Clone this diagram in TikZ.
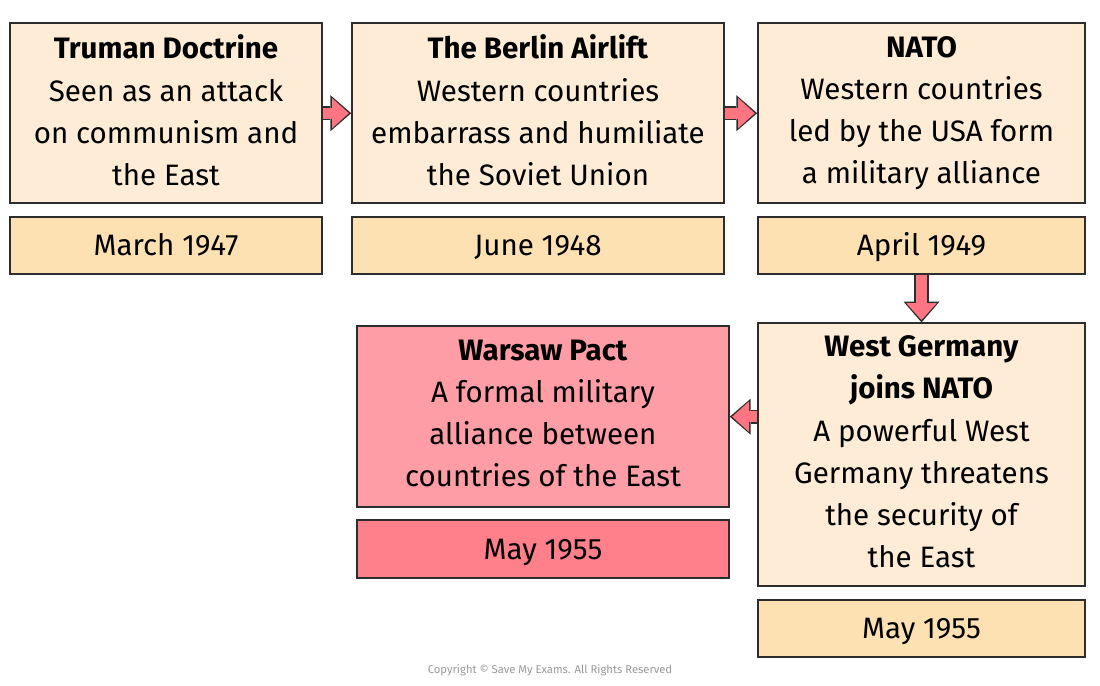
\documentclass[tikz,border=0pt]{standalone}
\usepackage{fontspec}
\setmainfont{Fira Sans}
\usetikzlibrary{arrows.meta}
\definecolor{cream}{RGB}{254,236,214}
\definecolor{datecream}{RGB}{253,225,178}
\definecolor{pactpink}{RGB}{255,157,166}
\definecolor{pactdatepink}{RGB}{255,128,139}
\definecolor{arrowpink}{RGB}{255,118,130}
\definecolor{edge}{RGB}{45,45,45}
\begin{document}
\begin{tikzpicture}[
    event/.style={draw=edge, line width=0.04cm, fill=cream, inner sep=0cm, align=center, font=\fontsize{21}{29.9}\selectfont,
        execute at begin node=\vphantom{T}, execute at end node=\vphantom{y}},
    datebox/.style={draw=edge, line width=0.04cm, fill=datecream, inner sep=0cm, minimum height=1.425cm,
        font=\fontsize{21}{29.9}\selectfont, text height=14.5pt, text depth=0pt},
    linkback/.style={draw=edge, line width=0.36cm, -{Triangle[length=0.52cm,width=0.9cm,line width=0pt]}},
    linkfront/.style={draw=arrowpink, line width=0.27cm, shorten >=0.06cm, -{Triangle[length=0.42cm,width=0.76cm,line width=0pt]}}
]
    \useasboundingbox (0cm,0cm) rectangle (27.5cm,-17.15cm);
    % top row
    \node[event, minimum width=7.8cm, minimum height=4.5cm] at (4.15cm,-2.83cm) (TD) {\textbf{Truman Doctrine}\\Seen as an attack\\on communism and\\the East};
    \node[event, minimum width=9.3cm, minimum height=4.5cm] at (13.45cm,-2.83cm) (BA) {\textbf{The Berlin Airlift}\\Western countries\\embarrass and humiliate\\the Soviet Union};
    \node[event, minimum width=8.175cm, minimum height=4.5cm] at (23.0375cm,-2.83cm) (NATO) {\textbf{NATO}\\Western countries\\led by the USA form\\a military alliance};
    \node[datebox, minimum width=7.8cm] at (4.15cm,-6.1375cm) (DTD) {March 1947};
    \node[datebox, minimum width=9.3cm] at (13.45cm,-6.1375cm) (DBA) {June 1948};
    \node[datebox, minimum width=8.175cm] at (23.0375cm,-6.1375cm) (DNATO) {April 1949};
    % bottom row
    \node[event, minimum width=8.175cm, minimum height=6.575cm] at (23.0375cm,-11.3675cm) (WG) {\textbf{West Germany}\\\textbf{joins NATO}\\A powerful West\\Germany threatens\\the security of\\the East};
    \node[datebox, minimum width=8.175cm] at (23.0375cm,-15.7125cm) (DWG) {May 1955};
    \node[event, fill=pactpink, minimum width=9.3cm, minimum height=4.525cm] at (13.575cm,-10.4175cm) (WP) {\textbf{Warsaw Pact}\\A formal military\\alliance between\\countries of the East};
    \node[datebox, fill=pactdatepink, minimum width=9.3cm, minimum height=1.45cm] at (13.575cm,-13.725cm) (DWP) {May 1955};
    \node[text=gray!80] at (13.75cm,-16.75cm) (copy) {\fontsize{8}{9}\selectfont Copyright \textcopyright{} Save My Exams. All Rights Reserved};
    % arrows
    \draw[linkback] (TD.east) -- (BA.west);
    \draw[linkfront] (TD.east) -- (BA.west);
    \draw[linkback] (BA.east) -- (NATO.west);
    \draw[linkfront] (BA.east) -- (NATO.west);
    \draw[linkback] (DNATO.south) -- (WG.north);
    \draw[linkfront] (DNATO.south) -- (WG.north);
    \draw[linkback] (WG.west |- WP.east) -- (WP.east);
    \draw[linkfront] (WG.west |- WP.east) -- (WP.east);
\end{tikzpicture}
\end{document}
